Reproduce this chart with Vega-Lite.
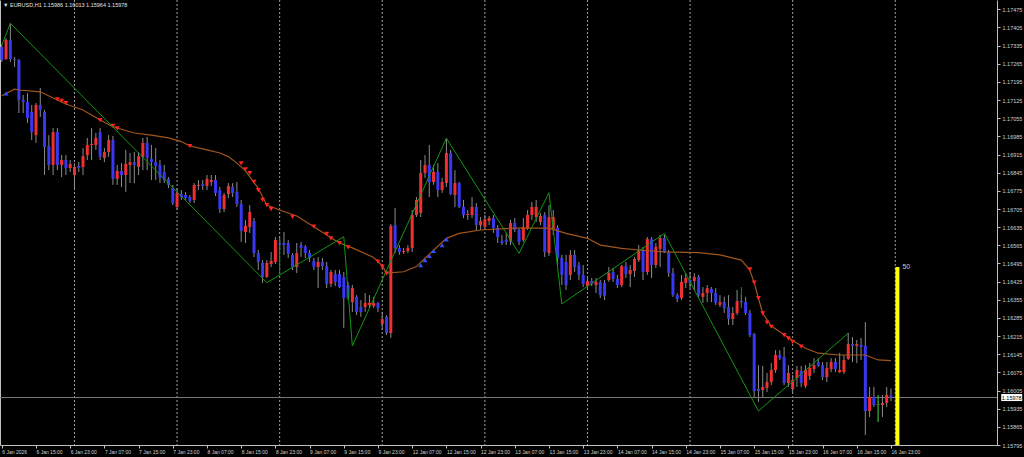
{
"$schema": "https://vega.github.io/schema/vega-lite/v6.json",
"width": 997, "height": 445,
"autosize": {"type": "none"},
"padding": {"left": 0, "top": 0, "right": 27, "bottom": 12},
"background": "#000000",
"config": {"view": {"stroke": null}, "font": "Liberation Sans", "scale": {"continuousPadding": 0}, "axis": {"labelOverlap": false}},
"title": {"text": "▼ EURUSD,H1  1.15986 1.16013 1.15964 1.15978", "anchor": "start", "frame": "group", "offset": -9, "dx": 3, "fontSize": 5.5, "fontWeight": "normal", "color": "#E0E0E0", "font": "Liberation Sans"},
"datasets": {
"candles": [
{"i":0,"o":1.1733,"h":1.17341,"l":1.17272,"c":1.1728},
{"i":1,"o":1.17283,"h":1.17364,"l":1.1728,"c":1.17357},
{"i":2,"o":1.17357,"h":1.17422,"l":1.17272,"c":1.17283},
{"i":3,"o":1.17283,"h":1.17291,"l":1.17253,"c":1.1728},
{"i":4,"o":1.1728,"h":1.17283,"l":1.17075,"c":1.17125},
{"i":5,"o":1.17125,"h":1.17145,"l":1.17075,"c":1.17118},
{"i":6,"o":1.17118,"h":1.17152,"l":1.17037,"c":1.17056},
{"i":7,"o":1.17079,"h":1.17106,"l":1.16971,"c":1.17002},
{"i":8,"o":1.1699,"h":1.17114,"l":1.1696,"c":1.17106},
{"i":9,"o":1.17106,"h":1.17172,"l":1.1706,"c":1.17087},
{"i":10,"o":1.17079,"h":1.17087,"l":1.16836,"c":1.16944},
{"i":11,"o":1.16948,"h":1.1699,"l":1.16855,"c":1.16875},
{"i":12,"o":1.16875,"h":1.17017,"l":1.16836,"c":1.17002},
{"i":13,"o":1.17002,"h":1.17017,"l":1.16855,"c":1.16875},
{"i":14,"o":1.16875,"h":1.16913,"l":1.16828,"c":1.16894},
{"i":15,"o":1.16894,"h":1.16913,"l":1.16836,"c":1.16863},
{"i":16,"o":1.16863,"h":1.16894,"l":1.16848,"c":1.16879},
{"i":17,"o":1.16836,"h":1.16882,"l":1.16786,"c":1.16867},
{"i":18,"o":1.16871,"h":1.16886,"l":1.16848,"c":1.16863},
{"i":19,"o":1.16867,"h":1.1694,"l":1.16836,"c":1.16909},
{"i":20,"o":1.16913,"h":1.16979,"l":1.16894,"c":1.16952},
{"i":21,"o":1.16952,"h":1.17017,"l":1.16894,"c":1.16956},
{"i":22,"o":1.16952,"h":1.16998,"l":1.16933,"c":1.16979},
{"i":23,"o":1.17002,"h":1.17017,"l":1.16894,"c":1.16906},
{"i":24,"o":1.16902,"h":1.1694,"l":1.16886,"c":1.16925},
{"i":25,"o":1.16925,"h":1.1699,"l":1.16906,"c":1.16971},
{"i":26,"o":1.16971,"h":1.16987,"l":1.16798,"c":1.16821},
{"i":27,"o":1.16821,"h":1.16875,"l":1.16798,"c":1.16852},
{"i":28,"o":1.16852,"h":1.16882,"l":1.1679,"c":1.16836},
{"i":29,"o":1.16836,"h":1.16933,"l":1.16771,"c":1.16879},
{"i":30,"o":1.16875,"h":1.16921,"l":1.16805,"c":1.16886},
{"i":31,"o":1.16886,"h":1.16925,"l":1.16805,"c":1.16875},
{"i":32,"o":1.16867,"h":1.16925,"l":1.16836,"c":1.16909},
{"i":33,"o":1.16906,"h":1.16979,"l":1.16855,"c":1.1696},
{"i":34,"o":1.1696,"h":1.16983,"l":1.16855,"c":1.16902},
{"i":35,"o":1.16898,"h":1.16952,"l":1.16817,"c":1.16886},
{"i":36,"o":1.16886,"h":1.1694,"l":1.16817,"c":1.16871},
{"i":37,"o":1.16875,"h":1.16894,"l":1.16805,"c":1.16825},
{"i":38,"o":1.16848,"h":1.16875,"l":1.16805,"c":1.16817},
{"i":39,"o":1.16821,"h":1.16828,"l":1.16786,"c":1.16798},
{"i":40,"o":1.16786,"h":1.16798,"l":1.1672,"c":1.16728},
{"i":41,"o":1.16713,"h":1.16786,"l":1.16701,"c":1.16767},
{"i":42,"o":1.16763,"h":1.16778,"l":1.1674,"c":1.16751},
{"i":43,"o":1.16759,"h":1.16771,"l":1.1674,"c":1.16747},
{"i":44,"o":1.16751,"h":1.16759,"l":1.16728,"c":1.16736},
{"i":45,"o":1.1674,"h":1.16805,"l":1.16728,"c":1.16798},
{"i":46,"o":1.16794,"h":1.16817,"l":1.16778,"c":1.16798},
{"i":47,"o":1.16801,"h":1.16817,"l":1.16778,"c":1.16794},
{"i":48,"o":1.16794,"h":1.16836,"l":1.16778,"c":1.16821},
{"i":49,"o":1.16809,"h":1.16836,"l":1.16794,"c":1.16817},
{"i":50,"o":1.16817,"h":1.16836,"l":1.16755,"c":1.16767},
{"i":51,"o":1.16778,"h":1.1679,"l":1.1669,"c":1.16705},
{"i":52,"o":1.16705,"h":1.16767,"l":1.16693,"c":1.16759},
{"i":53,"o":1.16763,"h":1.16805,"l":1.16747,"c":1.16794},
{"i":54,"o":1.1679,"h":1.16805,"l":1.16751,"c":1.16767},
{"i":55,"o":1.16771,"h":1.16809,"l":1.16713,"c":1.16724},
{"i":56,"o":1.16724,"h":1.1674,"l":1.16578,"c":1.1662},
{"i":57,"o":1.16616,"h":1.16663,"l":1.16574,"c":1.1664},
{"i":58,"o":1.16636,"h":1.1672,"l":1.16613,"c":1.16693},
{"i":59,"o":1.16659,"h":1.1667,"l":1.1652,"c":1.16535},
{"i":60,"o":1.16535,"h":1.16547,"l":1.1647,"c":1.16501},
{"i":61,"o":1.16497,"h":1.16508,"l":1.1642,"c":1.16443},
{"i":62,"o":1.16443,"h":1.16508,"l":1.16439,"c":1.16497},
{"i":63,"o":1.16493,"h":1.16539,"l":1.16481,"c":1.16505},
{"i":64,"o":1.16501,"h":1.16597,"l":1.16493,"c":1.16586},
{"i":65,"o":1.16574,"h":1.16593,"l":1.16547,"c":1.1657},
{"i":66,"o":1.16574,"h":1.16616,"l":1.16528,"c":1.16566},
{"i":67,"o":1.16574,"h":1.16586,"l":1.16516,"c":1.16532},
{"i":68,"o":1.16528,"h":1.16535,"l":1.1647,"c":1.16481},
{"i":69,"o":1.16481,"h":1.16574,"l":1.16458,"c":1.16535},
{"i":70,"o":1.16566,"h":1.16578,"l":1.1652,"c":1.16555},
{"i":71,"o":1.16559,"h":1.16566,"l":1.16516,"c":1.16535},
{"i":72,"o":1.16535,"h":1.16547,"l":1.16501,"c":1.16516},
{"i":73,"o":1.16505,"h":1.16516,"l":1.1647,"c":1.16481},
{"i":74,"o":1.16481,"h":1.1652,"l":1.164,"c":1.16501},
{"i":75,"o":1.16501,"h":1.16516,"l":1.1647,"c":1.16485},
{"i":76,"o":1.16485,"h":1.16501,"l":1.164,"c":1.16416},
{"i":77,"o":1.16416,"h":1.1647,"l":1.16404,"c":1.16462},
{"i":78,"o":1.16454,"h":1.1647,"l":1.16408,"c":1.16424},
{"i":79,"o":1.16454,"h":1.1647,"l":1.164,"c":1.16404},
{"i":80,"o":1.16443,"h":1.16462,"l":1.16246,"c":1.16362},
{"i":81,"o":1.16412,"h":1.16424,"l":1.16354,"c":1.16362},
{"i":82,"o":1.16346,"h":1.16412,"l":1.16308,"c":1.164},
{"i":83,"o":1.16366,"h":1.16373,"l":1.16296,"c":1.16308},
{"i":84,"o":1.16327,"h":1.16354,"l":1.16289,"c":1.16308},
{"i":85,"o":1.16327,"h":1.16381,"l":1.16308,"c":1.16343},
{"i":86,"o":1.16335,"h":1.16373,"l":1.16323,"c":1.16343},
{"i":87,"o":1.16331,"h":1.16366,"l":1.16323,"c":1.16343},
{"i":88,"o":1.16343,"h":1.16346,"l":1.16308,"c":1.16323},
{"i":89,"o":1.16262,"h":1.16308,"l":1.16238,"c":1.16281},
{"i":90,"o":1.16289,"h":1.16296,"l":1.16219,"c":1.16227},
{"i":91,"o":1.16227,"h":1.16647,"l":1.16208,"c":1.1664},
{"i":92,"o":1.16643,"h":1.16709,"l":1.16535,"c":1.16555},
{"i":93,"o":1.16555,"h":1.16566,"l":1.16528,"c":1.16539},
{"i":94,"o":1.16539,"h":1.16555,"l":1.16532,"c":1.16543},
{"i":95,"o":1.16543,"h":1.16566,"l":1.16535,"c":1.16555},
{"i":96,"o":1.16555,"h":1.16701,"l":1.16539,"c":1.16682},
{"i":97,"o":1.16682,"h":1.16751,"l":1.16674,"c":1.1674},
{"i":98,"o":1.1669,"h":1.16894,"l":1.16674,"c":1.16844},
{"i":99,"o":1.16844,"h":1.16913,"l":1.16825,"c":1.16875},
{"i":100,"o":1.16875,"h":1.16952,"l":1.16751,"c":1.16809},
{"i":101,"o":1.16809,"h":1.16875,"l":1.16798,"c":1.16848},
{"i":102,"o":1.16848,"h":1.16882,"l":1.16751,"c":1.16778},
{"i":103,"o":1.16778,"h":1.16825,"l":1.16767,"c":1.16809},
{"i":104,"o":1.16805,"h":1.16979,"l":1.1679,"c":1.16921},
{"i":105,"o":1.16921,"h":1.16933,"l":1.16759,"c":1.16763},
{"i":106,"o":1.16759,"h":1.16855,"l":1.16713,"c":1.16805},
{"i":107,"o":1.16805,"h":1.16809,"l":1.16709,"c":1.16713},
{"i":108,"o":1.16713,"h":1.1674,"l":1.1667,"c":1.16682},
{"i":109,"o":1.16682,"h":1.16701,"l":1.16663,"c":1.16686},
{"i":110,"o":1.16682,"h":1.16751,"l":1.1667,"c":1.16713},
{"i":111,"o":1.16713,"h":1.16728,"l":1.16624,"c":1.16643},
{"i":112,"o":1.16643,"h":1.16674,"l":1.16624,"c":1.16659},
{"i":113,"o":1.16636,"h":1.16682,"l":1.16624,"c":1.16666},
{"i":114,"o":1.16659,"h":1.16678,"l":1.16643,"c":1.1667},
{"i":115,"o":1.1667,"h":1.16682,"l":1.16613,"c":1.16632},
{"i":116,"o":1.16632,"h":1.16643,"l":1.16574,"c":1.16597},
{"i":117,"o":1.16582,"h":1.16605,"l":1.16566,"c":1.16574},
{"i":118,"o":1.16586,"h":1.16613,"l":1.16566,"c":1.16578},
{"i":119,"o":1.16582,"h":1.16663,"l":1.16566,"c":1.16651},
{"i":120,"o":1.16651,"h":1.1667,"l":1.16616,"c":1.16624},
{"i":121,"o":1.16624,"h":1.16632,"l":1.16566,"c":1.16578},
{"i":122,"o":1.16586,"h":1.1667,"l":1.16578,"c":1.16636},
{"i":123,"o":1.16632,"h":1.16701,"l":1.16624,"c":1.16682},
{"i":124,"o":1.16682,"h":1.16732,"l":1.16663,"c":1.16713},
{"i":125,"o":1.16674,"h":1.1674,"l":1.16655,"c":1.16713},
{"i":126,"o":1.16655,"h":1.1669,"l":1.16643,"c":1.16678},
{"i":127,"o":1.16682,"h":1.16693,"l":1.1652,"c":1.16539},
{"i":128,"o":1.16535,"h":1.1672,"l":1.16524,"c":1.16674},
{"i":129,"o":1.16624,"h":1.16701,"l":1.16605,"c":1.16674},
{"i":130,"o":1.16632,"h":1.16643,"l":1.16489,"c":1.16516},
{"i":131,"o":1.16516,"h":1.16528,"l":1.16412,"c":1.16451},
{"i":132,"o":1.16501,"h":1.16528,"l":1.16393,"c":1.16412},
{"i":133,"o":1.16451,"h":1.16547,"l":1.16431,"c":1.16528},
{"i":134,"o":1.16528,"h":1.16547,"l":1.16462,"c":1.16481},
{"i":135,"o":1.16489,"h":1.16501,"l":1.16431,"c":1.16451},
{"i":136,"o":1.16451,"h":1.16489,"l":1.16404,"c":1.16416},
{"i":137,"o":1.16408,"h":1.16443,"l":1.16393,"c":1.16427},
{"i":138,"o":1.16427,"h":1.16439,"l":1.16408,"c":1.16416},
{"i":139,"o":1.16412,"h":1.16439,"l":1.16381,"c":1.16424},
{"i":140,"o":1.16424,"h":1.16431,"l":1.16362,"c":1.16373},
{"i":141,"o":1.1642,"h":1.16431,"l":1.16354,"c":1.1637},
{"i":142,"o":1.16431,"h":1.16481,"l":1.16424,"c":1.16458},
{"i":143,"o":1.16462,"h":1.16478,"l":1.16424,"c":1.16435},
{"i":144,"o":1.16435,"h":1.16451,"l":1.164,"c":1.16412},
{"i":145,"o":1.16412,"h":1.16489,"l":1.16404,"c":1.16485},
{"i":146,"o":1.16485,"h":1.16501,"l":1.16439,"c":1.16454},
{"i":147,"o":1.16454,"h":1.16489,"l":1.16404,"c":1.1647},
{"i":148,"o":1.16466,"h":1.1652,"l":1.16443,"c":1.16512},
{"i":149,"o":1.16508,"h":1.16566,"l":1.16501,"c":1.16547},
{"i":150,"o":1.16547,"h":1.16559,"l":1.16431,"c":1.16462},
{"i":151,"o":1.16462,"h":1.16597,"l":1.16451,"c":1.16589},
{"i":152,"o":1.16589,"h":1.16597,"l":1.16439,"c":1.16489},
{"i":153,"o":1.16489,"h":1.16574,"l":1.16478,"c":1.16559},
{"i":154,"o":1.16551,"h":1.16605,"l":1.16481,"c":1.16593},
{"i":155,"o":1.16593,"h":1.16605,"l":1.16535,"c":1.16539},
{"i":156,"o":1.16539,"h":1.16547,"l":1.16443,"c":1.16458},
{"i":157,"o":1.16458,"h":1.16478,"l":1.16366,"c":1.16373},
{"i":158,"o":1.16373,"h":1.16381,"l":1.16346,"c":1.16358},
{"i":159,"o":1.16362,"h":1.16451,"l":1.16354,"c":1.16424},
{"i":160,"o":1.1642,"h":1.16458,"l":1.164,"c":1.16439},
{"i":161,"o":1.16431,"h":1.16462,"l":1.164,"c":1.1642},
{"i":162,"o":1.16427,"h":1.16458,"l":1.16393,"c":1.16443},
{"i":163,"o":1.16443,"h":1.16451,"l":1.16366,"c":1.16373},
{"i":164,"o":1.16366,"h":1.16404,"l":1.16343,"c":1.16381},
{"i":165,"o":1.16381,"h":1.16412,"l":1.16346,"c":1.164},
{"i":166,"o":1.16397,"h":1.16404,"l":1.16346,"c":1.16381},
{"i":167,"o":1.16381,"h":1.164,"l":1.16335,"c":1.16343},
{"i":168,"o":1.16335,"h":1.16373,"l":1.16327,"c":1.16346},
{"i":169,"o":1.16346,"h":1.16366,"l":1.16304,"c":1.16323},
{"i":170,"o":1.16327,"h":1.16373,"l":1.16258,"c":1.16281},
{"i":171,"o":1.16281,"h":1.16327,"l":1.16258,"c":1.16304},
{"i":172,"o":1.16304,"h":1.16393,"l":1.16296,"c":1.1635},
{"i":173,"o":1.1635,"h":1.16373,"l":1.16335,"c":1.16346},
{"i":174,"o":1.16346,"h":1.16366,"l":1.16296,"c":1.16304},
{"i":175,"o":1.16304,"h":1.16316,"l":1.16211,"c":1.16219},
{"i":176,"o":1.16223,"h":1.16227,"l":1.1598,"c":1.16003},
{"i":177,"o":1.16011,"h":1.16103,"l":1.15961,"c":1.16003},
{"i":178,"o":1.16007,"h":1.161,"l":1.1598,"c":1.16019},
{"i":179,"o":1.16015,"h":1.16073,"l":1.15999,"c":1.16038},
{"i":180,"o":1.16038,"h":1.16111,"l":1.16026,"c":1.16084},
{"i":181,"o":1.16084,"h":1.16161,"l":1.16073,"c":1.16142},
{"i":182,"o":1.16142,"h":1.16161,"l":1.16123,"c":1.1613},
{"i":183,"o":1.16134,"h":1.16173,"l":1.16026,"c":1.16034},
{"i":184,"o":1.16034,"h":1.16103,"l":1.16019,"c":1.16073},
{"i":185,"o":1.16011,"h":1.16065,"l":1.15999,"c":1.16046},
{"i":186,"o":1.16053,"h":1.161,"l":1.16019,"c":1.16084},
{"i":187,"o":1.1608,"h":1.161,"l":1.16019,"c":1.16034},
{"i":188,"o":1.16023,"h":1.16103,"l":1.16015,"c":1.16084},
{"i":189,"o":1.16061,"h":1.16111,"l":1.16046,"c":1.16092},
{"i":190,"o":1.16088,"h":1.1613,"l":1.16073,"c":1.16103},
{"i":191,"o":1.16115,"h":1.1613,"l":1.16096,"c":1.161},
{"i":192,"o":1.16103,"h":1.16115,"l":1.16046,"c":1.16057},
{"i":193,"o":1.16057,"h":1.16115,"l":1.16038,"c":1.16092},
{"i":194,"o":1.16088,"h":1.1613,"l":1.16076,"c":1.16115},
{"i":195,"o":1.16115,"h":1.1613,"l":1.16076,"c":1.16088},
{"i":196,"o":1.16076,"h":1.1615,"l":1.16073,"c":1.16084},
{"i":197,"o":1.16076,"h":1.16142,"l":1.16069,"c":1.16123},
{"i":198,"o":1.16127,"h":1.16227,"l":1.16123,"c":1.16184},
{"i":199,"o":1.16184,"h":1.16211,"l":1.16115,"c":1.16177},
{"i":200,"o":1.16177,"h":1.162,"l":1.16111,"c":1.16184},
{"i":201,"o":1.16181,"h":1.16208,"l":1.16123,"c":1.16173},
{"i":202,"o":1.16177,"h":1.16269,"l":1.15834,"c":1.15926},
{"i":203,"o":1.15926,"h":1.16019,"l":1.15903,"c":1.1598},
{"i":204,"o":1.1598,"h":1.16019,"l":1.15942,"c":1.15949},
{"i":205,"o":1.15949,"h":1.15988,"l":1.15884,"c":1.15953},
{"i":206,"o":1.15949,"h":1.15988,"l":1.15903,"c":1.15957},
{"i":207,"o":1.15957,"h":1.16019,"l":1.15942,"c":1.15988},
{"i":208,"o":1.15986,"h":1.16013,"l":1.15964,"c":1.15978}
],
"ma": [
{"i":0,"p":1.17142},{"i":3,"p":1.17167},{"i":4,"p":1.17164},{"i":9,"p":1.17157},{"i":12,"p":1.17133},{"i":15,"p":1.1711},{"i":19,"p":1.17087},{"i":23,"p":1.17048},{"i":26,"p":1.17022},{"i":31,"p":1.16998},{"i":35,"p":1.1699},{"i":39,"p":1.16979},{"i":42,"p":1.16965},{"i":44,"p":1.16948},{"i":48,"p":1.16933},{"i":51,"p":1.16921},{"i":53,"p":1.16907},{"i":55,"p":1.16882},{"i":57,"p":1.16852},{"i":60,"p":1.16785},{"i":62,"p":1.1672},{"i":65,"p":1.16701},{"i":69,"p":1.16678},{"i":73,"p":1.16637},{"i":76,"p":1.16605},{"i":79,"p":1.16574},{"i":82,"p":1.16555},{"i":87,"p":1.16518},{"i":89,"p":1.16486},{"i":90,"p":1.16458},{"i":94,"p":1.16463},{"i":97,"p":1.16483},{"i":99,"p":1.16515},{"i":104,"p":1.16592},{"i":107,"p":1.16611},{"i":112,"p":1.16624},{"i":120,"p":1.16631},{"i":128,"p":1.16631},{"i":132,"p":1.16611},{"i":137,"p":1.16592},{"i":140,"p":1.16566},{"i":145,"p":1.16553},{"i":149,"p":1.16547},{"i":155,"p":1.1654},{"i":163,"p":1.16537},{"i":168,"p":1.16528},{"i":173,"p":1.16508},{"i":174,"p":1.16489},{"i":175,"p":1.16468},{"i":176,"p":1.16421},{"i":177,"p":1.16361},{"i":178,"p":1.16303},{"i":180,"p":1.16254},{"i":182,"p":1.16232},{"i":185,"p":1.16198},{"i":188,"p":1.16168},{"i":191,"p":1.16149},{"i":196,"p":1.16142},{"i":202,"p":1.16142},{"i":205,"p":1.16123},{"i":208,"p":1.1612}
],
"marks": [
{"i":13,"p":1.17128,"d":"dn"},{"i":14,"p":1.17122,"d":"dn"},{"i":15,"p":1.17113,"d":"dn"},{"i":23,"p":1.17048,"d":"dn"},{"i":26,"p":1.17026,"d":"dn"},{"i":27,"p":1.17016,"d":"dn"},{"i":44,"p":1.16948,"d":"dn"},{"i":56,"p":1.16881,"d":"dn"},{"i":57,"p":1.16858,"d":"dn"},{"i":58,"p":1.16843,"d":"dn"},{"i":59,"p":1.1681,"d":"dn"},{"i":60,"p":1.16778,"d":"dn"},{"i":61,"p":1.1674,"d":"dn"},{"i":62,"p":1.1672,"d":"dn"},{"i":63,"p":1.16705,"d":"dn"},{"i":68,"p":1.16675,"d":"dn"},{"i":73,"p":1.16637,"d":"dn"},{"i":76,"p":1.16609,"d":"dn"},{"i":77,"p":1.16592,"d":"dn"},{"i":79,"p":1.16573,"d":"dn"},{"i":81,"p":1.16557,"d":"dn"},{"i":88,"p":1.16502,"d":"dn"},{"i":89,"p":1.16483,"d":"dn"},{"i":90,"p":1.16457,"d":"dn"},{"i":175,"p":1.16472,"d":"dn"},{"i":176,"p":1.16421,"d":"dn"},{"i":177,"p":1.16361,"d":"dn"},{"i":178,"p":1.16303,"d":"dn"},{"i":179,"p":1.16267,"d":"dn"},{"i":180,"p":1.16251,"d":"dn"},{"i":183,"p":1.16219,"d":"dn"},{"i":184,"p":1.16206,"d":"dn"},{"i":185,"p":1.16193,"d":"dn"},{"i":187,"p":1.16174,"d":"dn"},
{"i":1,"p":1.17151,"d":"up"},{"i":98,"p":1.16489,"d":"up"},{"i":99,"p":1.16508,"d":"up"},{"i":100,"p":1.16524,"d":"up"},{"i":101,"p":1.16544,"d":"up"},{"i":103,"p":1.16566,"d":"up"},{"i":104,"p":1.16588,"d":"up"}
],
"zig": [
{"i":0,"p":1.17337},{"i":2,"p":1.17421},{"i":62,"p":1.16421},{"i":80,"p":1.16598},{"i":82,"p":1.16177},{"i":104,"p":1.16978},{"i":121,"p":1.16534},{"i":128,"p":1.16768},{"i":131,"p":1.16339},{"i":155,"p":1.16611},{"i":177,"p":1.15926},{"i":198,"p":1.16226}
],
"zigv": [
{"i":65,"a":1.16593,"b":1.16454},{"i":173,"a":1.16404,"b":1.16323},{"i":205,"a":1.15988,"b":1.15884}
],
"sep": [{"s":17},{"s":41},{"s":65},{"s":89},{"s":113},{"s":137},{"s":161},{"s":185},{"s":209}],
"last": [{"p":1.15978}],
"gauge": [{"i":209.5,"p":1.16481,"t":"50"}]
},
"resolve": {"axis": {"x": "independent", "y": "independent"}},
"layer": [
{"data": {"name": "sep"}, "mark": {"type": "rule", "color": "#A0A0A0", "strokeDash": [2, 2], "strokeWidth": 1},
 "encoding": {"x": {"field": "s", "type": "quantitative", "scale": {"domain": [-0.42, 232.8], "nice": false, "zero": false, "padding": 0},
   "axis": {"orient": "bottom", "values": [0,8,16,24,32,40,48,56,64,72,80,88,96,104,112,120,128,136,144,152,160,168,176,184,192,200,208],
     "labelExpr": "['6 Jan 2026','6 Jan 15:00','6 Jan 23:00','7 Jan 07:00','7 Jan 15:00','7 Jan 23:00','8 Jan 07:00','8 Jan 15:00','8 Jan 23:00','9 Jan 07:00','9 Jan 15:00','9 Jan 23:00','12 Jan 07:00','12 Jan 15:00','12 Jan 23:00','13 Jan 07:00','13 Jan 15:00','13 Jan 23:00','14 Jan 07:00','14 Jan 15:00','14 Jan 23:00','15 Jan 07:00','15 Jan 15:00','15 Jan 23:00','16 Jan 07:00','16 Jan 15:00','16 Jan 23:00'][round(datum.value/8)]",
     "labelAlign": "left", "labelBaseline": "top", "labelPadding": 1, "tickSize": 3, "labelFontSize": 5, "labelFont": "Liberation Sans", "labelColor": "#D0D0D0", "tickColor": "#C0C0C0", "domainColor": "#C0C0C0", "grid": false, "title": null, "labelOverlap": false, "labelSeparation": 0, "labelFlush": false, "labelBound": false}}}},
{"data": {"name": "last"}, "mark": {"type": "rule", "color": "#7A7A7A", "strokeWidth": 1},
 "encoding": {"y": {"field": "p", "type": "quantitative", "scale": {"domain": [1.15795, 1.17511], "nice": false, "zero": false, "padding": 0},
   "axis": {"orient": "left", "labels": false, "ticks": false, "grid": false, "title": null, "domainColor": "#C0C0C0"}}}},
{"data": {"name": "candles"}, "mark": {"type": "rule", "color": "#8C8C8C", "strokeWidth": 1},
 "encoding": {"x": {"field": "i", "type": "quantitative", "scale": {"domain": [-0.42, 232.8], "nice": false, "zero": false, "padding": 0}, "axis": null},
   "y": {"field": "l", "type": "quantitative", "scale": {"domain": [1.15795, 1.17511], "nice": false, "zero": false, "padding": 0}, "axis": null},
   "y2": {"field": "h"}}},
{"data": {"name": "candles"}, "mark": {"type": "bar", "size": 3},
 "encoding": {"x": {"field": "i", "type": "quantitative", "scale": {"domain": [-0.42, 232.8], "nice": false, "zero": false, "padding": 0}, "axis": null},
   "y": {"field": "o", "type": "quantitative", "scale": {"domain": [1.15795, 1.17511], "nice": false, "zero": false, "padding": 0},
     "axis": {"orient": "right", "values": [1.15795,1.15865,1.15935,1.16005,1.16075,1.16145,1.16215,1.16285,1.16355,1.16425,1.16495,1.16565,1.16635,1.16705,1.16775,1.16845,1.16915,1.16985,1.17055,1.17125,1.17195,1.17265,1.17335,1.17405,1.17475],
       "format": ".5f", "labelAlign": "left", "labelPadding": 2, "tickSize": 3, "labelFontSize": 5.5, "labelFont": "Liberation Sans", "labelColor": "#D0D0D0", "tickColor": "#C0C0C0", "domainColor": "#C0C0C0", "grid": false, "title": null, "labelOverlap": false, "labelFlush": false, "labelBound": false}},
   "y2": {"field": "c"},
   "color": {"condition": {"test": "datum.c >= datum.o", "value": "#F03030"}, "value": "#3838F0"}}},
{"data": {"name": "ma"}, "mark": {"type": "line", "color": "#A0561C", "strokeWidth": 1.2},
 "encoding": {"x": {"field": "i", "type": "quantitative", "scale": {"domain": [-0.42, 232.8], "nice": false, "zero": false, "padding": 0}, "axis": null},
   "y": {"field": "p", "type": "quantitative", "scale": {"domain": [1.15795, 1.17511], "nice": false, "zero": false, "padding": 0}, "axis": null}}},
{"data": {"name": "marks"}, "mark": {"type": "point", "filled": true, "size": 24, "opacity": 1},
 "encoding": {"x": {"field": "i", "type": "quantitative", "scale": {"domain": [-0.42, 232.8], "nice": false, "zero": false, "padding": 0}, "axis": null},
   "y": {"field": "p", "type": "quantitative", "scale": {"domain": [1.15795, 1.17511], "nice": false, "zero": false, "padding": 0}, "axis": null},
   "color": {"field": "d", "type": "nominal", "scale": {"domain": ["dn", "up"], "range": ["#FF2020", "#3050FF"]}, "legend": null},
   "shape": {"field": "d", "type": "nominal", "scale": {"domain": ["dn", "up"], "range": ["triangle-down", "triangle-up"]}, "legend": null}}},
{"data": {"name": "zig"}, "mark": {"type": "line", "color": "#129612", "strokeWidth": 1},
 "encoding": {"x": {"field": "i", "type": "quantitative", "scale": {"domain": [-0.42, 232.8], "nice": false, "zero": false, "padding": 0}, "axis": null},
   "y": {"field": "p", "type": "quantitative", "scale": {"domain": [1.15795, 1.17511], "nice": false, "zero": false, "padding": 0}, "axis": null}}},
{"data": {"name": "zigv"}, "mark": {"type": "rule", "color": "#129612", "strokeWidth": 1},
 "encoding": {"x": {"field": "i", "type": "quantitative", "scale": {"domain": [-0.42, 232.8], "nice": false, "zero": false, "padding": 0}, "axis": null},
   "y": {"field": "a", "type": "quantitative", "scale": {"domain": [1.15795, 1.17511], "nice": false, "zero": false, "padding": 0}, "axis": null},
   "y2": {"field": "b"}}},
{"data": {"name": "gauge"}, "mark": {"type": "bar", "size": 4, "color": "#FFFF00"},
 "encoding": {"x": {"field": "i", "type": "quantitative", "scale": {"domain": [-0.42, 232.8], "nice": false, "zero": false, "padding": 0}, "axis": null},
   "y": {"field": "p", "type": "quantitative", "scale": {"domain": [1.15795, 1.17511], "nice": false, "zero": false, "padding": 0}, "axis": null},
   "y2": {"datum": 1.15795}}},
{"data": {"name": "gauge"}, "mark": {"type": "text", "align": "left", "baseline": "middle", "dx": 5, "fontSize": 7, "color": "#C8C8C8", "font": "Liberation Sans"},
 "encoding": {"x": {"field": "i", "type": "quantitative", "scale": {"domain": [-0.42, 232.8], "nice": false, "zero": false, "padding": 0}, "axis": null},
   "y": {"field": "p", "type": "quantitative", "scale": {"domain": [1.15795, 1.17511], "nice": false, "zero": false, "padding": 0}, "axis": null},
   "text": {"field": "t"}}},
{"data": {"name": "last"}, "mark": {"type": "tick", "orient": "horizontal", "size": 21, "thickness": 7, "color": "#FFFFFF", "opacity": 1},
 "encoding": {"x": {"datum": 236.24, "type": "quantitative", "scale": {"domain": [-0.42, 232.8], "nice": false, "zero": false, "padding": 0}, "axis": null},
   "y": {"field": "p", "type": "quantitative", "scale": {"domain": [1.15795, 1.17511], "nice": false, "zero": false, "padding": 0}, "axis": null}}},
{"data": {"name": "last"}, "mark": {"type": "text", "align": "center", "baseline": "middle", "fontSize": 5.5, "color": "#000000", "font": "Liberation Sans"},
 "encoding": {"x": {"datum": 236.24, "type": "quantitative", "scale": {"domain": [-0.42, 232.8], "nice": false, "zero": false, "padding": 0}, "axis": null},
   "y": {"field": "p", "type": "quantitative", "scale": {"domain": [1.15795, 1.17511], "nice": false, "zero": false, "padding": 0}, "axis": null},
   "text": {"field": "p", "format": ".5f"}}}
]
}
